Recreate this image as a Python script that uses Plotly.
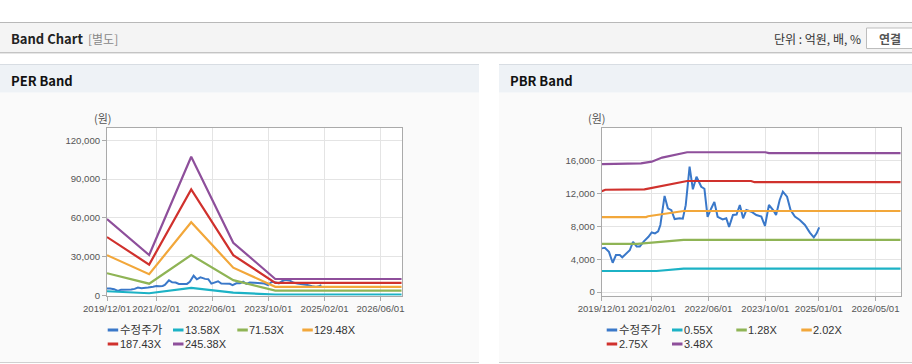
import plotly.graph_objects as go

W, H = 912, 364

# ---------------- data ----------------
price_name = "수정주가"
price_dates = [
    "2019-12-01", "2019-12-28", "2020-02-01", "2020-03-04", "2020-04-01", "2020-05-04",
    "2020-05-25", "2020-06-28", "2020-07-28", "2020-08-25", "2020-09-25", "2020-10-22",
    "2020-11-22", "2021-01-04", "2021-02-01", "2021-03-01", "2021-03-28", "2021-04-16",
    "2021-05-04", "2021-05-22", "2021-06-19", "2021-07-19", "2021-08-16", "2021-09-28",
    "2021-10-25", "2021-11-19", "2021-12-22", "2022-01-19", "2022-02-19", "2022-04-01",
    "2022-04-28", "2022-05-25", "2022-06-25", "2022-07-22", "2022-08-19", "2022-10-01",
    "2022-11-01", "2022-11-25", "2022-12-28", "2023-01-28", "2023-02-25", "2023-03-25",
    "2023-04-22", "2023-06-04", "2023-07-16", "2023-08-28", "2023-09-28", "2023-11-01",
    "2023-12-07", "2024-01-01", "2024-02-01", "2024-02-28", "2024-04-04", "2024-05-04",
    "2024-06-10", "2024-07-22", "2024-09-04", "2024-10-16", "2024-11-19", "2024-12-13",
    "2025-01-04",
]
price_values = [
    5330, 5400, 4900, 3580, 4520, 4520,
    4240, 4700, 5100, 6130, 5550, 5550,
    6130, 6740, 7270, 7150, 7400, 8180,
    10220, 11720, 10220, 10000, 8900, 9000,
    8960, 10600, 15290, 12530, 14060, 12840,
    12600, 9180, 10200, 11000, 9180, 8860,
    9000, 7950, 9400, 9450, 10620, 9000,
    10010, 9800, 9400, 9200, 8060, 10620,
    10010, 9400, 11230, 12240, 11630, 10010,
    9200, 8790, 8180, 7250, 6680, 7170,
    7900,
]

# PER band (원)
per_band_names = ["13.58X", "71.53X", "129.48X", "187.43X", "245.38X"]
per_band_dates = ["2019-12-01", "2020-12-01", "2021-12-01", "2022-12-01", "2023-12-01", "2026-12-01"]
per_band_1358 = [3270, 1730, 5940, 2260, 710, 710]
per_band_7153 = [17240, 9130, 31280, 11890, 3720, 3720]
per_band_12948 = [31210, 16520, 56620, 21530, 6730, 6730]
per_band_18743 = [45180, 23910, 81960, 31160, 9750, 9750]
per_band_24538 = [59150, 31300, 107300, 40800, 12760, 12760]

# PBR band (원)
pbr_band_names = ["0.55X", "1.28X", "2.02X", "2.75X", "3.48X"]
pbr_055_dates = ["2019-12-01", "2021-03-15", "2021-11-01", "2026-12-01"]
pbr_055_values = [2570, 2570, 2850, 2850]
pbr_128_dates = ["2019-12-01", "2020-10-01", "2021-11-01", "2026-12-01"]
pbr_128_values = [5870, 5880, 6370, 6370]
pbr_202_dates = ["2019-12-01", "2020-12-15", "2021-01-01", "2021-11-01", "2026-12-01"]
pbr_202_values = [9150, 9150, 9250, 9890, 9890]
pbr_275_dates = ["2019-12-01", "2020-01-01", "2020-12-01", "2021-12-01", "2023-06-01", "2023-07-01", "2026-12-01"]
pbr_275_values = [12300, 12480, 12520, 13550, 13550, 13400, 13400]
pbr_348_dates = ["2019-12-01", "2020-11-01", "2021-02-01", "2021-05-01", "2021-12-01", "2023-10-01", "2023-11-01", "2026-12-01"]
pbr_348_values = [15600, 15700, 15900, 16400, 17050, 17050, 16950, 16950]

per_x_ticks = ["2019-12-01", "2021-02-01", "2022-06-01", "2023-10-01", "2025-02-01", "2026-06-01"]
per_x_labels = ["2019/12/01", "2021/02/01", "2022/06/01", "2023/10/01", "2025/02/01", "2026/06/01"]
pbr_x_ticks = ["2019-12-01", "2021-02-01", "2022-06-01", "2023-10-01", "2025-01-01", "2026-05-01"]
pbr_x_labels = ["2019/12/01", "2021/02/01", "2022/06/01", "2023/10/01", "2025/01/01", "2026/05/01"]
per_y_ticks = [0, 30000, 60000, 90000, 120000]
pbr_y_ticks = [0, 4000, 8000, 12000, 16000]

series_colors = ["#3a78c9", "#1cb2c5", "#8fb455", "#f2a73a", "#d0312d", "#8e4f9b"]

# ---------------- helpers ----------------
def fx(p):
    return p / W


def fy(p):
    return 1 - p / H


TICK_FONT = dict(family="Liberation Sans, Arial", size=9.6, color="#555555")
TXT_FONT = "Liberation Sans, Arial, Noto Sans CJK KR"
KR_FONT = "Noto Sans CJK KR, Liberation Sans"

fig = go.Figure()

# ---------------- traces ----------------
per_bands = [per_band_1358, per_band_7153, per_band_12948, per_band_18743, per_band_24538]
pbr_bands = [
    (pbr_055_dates, pbr_055_values),
    (pbr_128_dates, pbr_128_values),
    (pbr_202_dates, pbr_202_values),
    (pbr_275_dates, pbr_275_values),
    (pbr_348_dates, pbr_348_values),
]

fig.add_trace(go.Scatter(x=price_dates, y=price_values, name=price_name, mode="lines",
                         line=dict(color=series_colors[0], width=2), xaxis="x", yaxis="y",
                         showlegend=False))
for i, vals in enumerate(per_bands):
    fig.add_trace(go.Scatter(x=per_band_dates, y=vals, name=per_band_names[i], mode="lines",
                             line=dict(color=series_colors[i + 1], width=2.2), xaxis="x", yaxis="y",
                             showlegend=False))

fig.add_trace(go.Scatter(x=price_dates, y=price_values, name=price_name, mode="lines",
                         line=dict(color=series_colors[0], width=2), xaxis="x2", yaxis="y2",
                         showlegend=False))
for i, (d, vals) in enumerate(pbr_bands):
    fig.add_trace(go.Scatter(x=d, y=vals, name=pbr_band_names[i], mode="lines",
                             line=dict(color=series_colors[i + 1], width=2.2), xaxis="x2", yaxis="y2",
                             showlegend=False))

# ---------------- axes ----------------
plot_top, plot_bot = 128, 295.5
per_left, per_right = 107, 402
pbr_left, pbr_right = 601.7, 901

common_x = dict(type="date", showgrid=True, gridcolor="#e4e4e4", gridwidth=1,
                showline=True, linecolor="#aaaaaa", linewidth=1, mirror=True,
                ticks="outside", ticklen=4, tickcolor="#aaaaaa", tickfont=TICK_FONT,
                tickangle=0, automargin=False,
                range=["2019-12-01", "2026-12-05"], zeroline=False, fixedrange=True)
common_y = dict(showgrid=True, gridcolor="#e4e4e4", gridwidth=1,
                showline=True, linecolor="#aaaaaa", linewidth=1, mirror=True,
                ticks="outside", ticklen=4, tickcolor="#aaaaaa", tickfont=TICK_FONT,
                automargin=False, tickformat=",d", zeroline=False, fixedrange=True)

fig.update_layout(
    xaxis=dict(common_x, domain=[fx(per_left), fx(per_right)], anchor="y",
               tickvals=per_x_ticks, ticktext=per_x_labels),
    yaxis=dict(common_y, domain=[fy(plot_bot), fy(plot_top)], anchor="x",
               range=[0, 129500], tickvals=per_y_ticks),
    xaxis2=dict(common_x, domain=[fx(pbr_left), fx(pbr_right)], anchor="y2",
                tickvals=pbr_x_ticks, ticktext=pbr_x_labels),
    yaxis2=dict(common_y, domain=[fy(plot_bot), fy(plot_top)], anchor="x2",
                range=[-415, 20010], tickvals=pbr_y_ticks),
)

# ---------------- decoration shapes ----------------
shapes = []


def rect(x0, y0, x1, y1, fill, line=None, lw=0):
    shapes.append(dict(type="rect", xref="paper", yref="paper", x0=fx(x0), x1=fx(x1),
                       y0=fy(y1), y1=fy(y0), fillcolor=fill,
                       line=dict(color=line or fill, width=lw), layer="below"))


def hline(x0, x1, y, color, w=1):
    shapes.append(dict(type="line", xref="paper", yref="paper", x0=fx(x0), x1=fx(x1),
                       y0=fy(y), y1=fy(y), line=dict(color=color, width=w), layer="below"))


# header bar
rect(0, 22, 912, 52.5, "#f4f4f4")
hline(0, 912, 22.5, "#b8b8b8")
hline(0, 912, 52.5, "#c4c4c4")
hline(0, 912, 53.5, "#e6e6e6")
# panels
for x0, x1 in [(0, 479), (499, 912)]:
    rect(x0, 92.5, x1, 362, "#fafafa")
    rect(x0, 64, x1, 92.5, "#eef2f6")
    hline(x0, x1, 64.5, "#d8dde3")
    hline(x0, x1, 362.5, "#d0d0d0")
# white plot areas
rect(per_left, plot_top, per_right, plot_bot, "#ffffff")
rect(pbr_left, plot_top, pbr_right, plot_bot, "#ffffff")
# button "연결"
shapes.append(dict(type="path", xref="paper", yref="paper",
                   path="M {a},{b} L {c},{b} L {c},{d} L {a},{d} Z".format(
                       a=fx(866.5), b=fy(28), c=fx(915), d=fy(48.5)),
                   fillcolor="#ffffff", line=dict(color="#bdbdbd", width=1), layer="below"))

annotations = []


def text(x, y, s, size, color, family, xanchor="left", bold=False):
    annotations.append(dict(xref="paper", yref="paper", x=fx(x), y=fy(y), text=("<b>%s</b>" % s) if bold else s,
                            showarrow=False, xanchor=xanchor, yanchor="middle", borderpad=0, borderwidth=0,
                            font=dict(size=size, color=color, family=family)))


text(11, 38.5, "Band Chart", 13, "#222222", KR_FONT, bold=True)
text(88, 38.5, "[별도]", 12, "#888888", KR_FONT)
text(861, 38.5, "단위 : 억원, 배, %", 12, "#333333", KR_FONT, xanchor="right")
text(890, 38.5, "연결", 12, "#555555", KR_FONT, xanchor="center", bold=True)
text(11, 80.5, "PER Band", 13, "#111111", KR_FONT, bold=True)
text(510, 80.5, "PBR Band", 13, "#111111", KR_FONT, bold=True)
text(102.5, 118, "(원)", 11, "#555555", KR_FONT, xanchor="center")
text(596.5, 118, "(원)", 11, "#555555", KR_FONT, xanchor="center")

# custom legends (compact swatches as in the reference)
legend_slots = [(107.7, 330), (173, 330), (237.3, 330), (302.3, 330), (107.7, 344), (173, 344)]
for offset, names in [(0, [price_name] + per_band_names), (499, [price_name] + pbr_band_names)]:
    for i, name in enumerate(names):
        sx, sy = legend_slots[i]
        sx += offset
        shapes.append(dict(type="line", xref="paper", yref="paper", x0=fx(sx), x1=fx(sx + 10.5),
                           y0=fy(sy), y1=fy(sy), line=dict(color=series_colors[i], width=3)))
        text(sx + 12, sy, name, 11.5 if i == 0 else 11, "#333333", TXT_FONT)

fig.update_layout(
    width=W, height=H, margin=dict(l=0, r=0, t=0, b=0, pad=0, autoexpand=False),
    paper_bgcolor="#ffffff", plot_bgcolor="rgba(0,0,0,0)",
    showlegend=False, shapes=shapes, annotations=annotations,
    font=dict(family=TXT_FONT),
)

fig.write_html(
    "out.html",
    config={"displayModeBar": False, "responsive": False},
    post_script="document.body.style.margin='0';document.body.style.padding='0';"
                "document.body.style.overflow='hidden';",
)
